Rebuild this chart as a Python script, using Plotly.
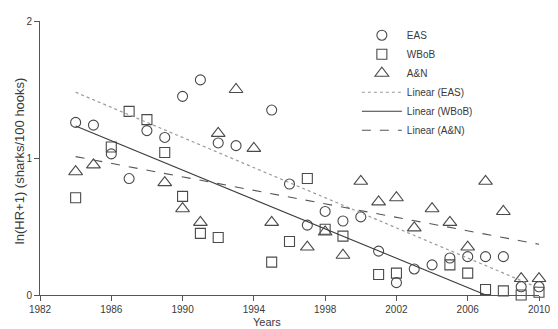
import plotly.graph_objects as go

# --- data ---
eas_years = [1984, 1985, 1986, 1987, 1988, 1989, 1990, 1991, 1992, 1993, 1995, 1996, 1997,
             1998, 1999, 2000, 2001, 2002, 2003, 2004, 2005, 2006, 2007, 2008, 2009, 2010]
eas_vals = [1.26, 1.24, 1.03, 0.85, 1.20, 1.15, 1.45, 1.57, 1.11, 1.09, 1.35, 0.81, 0.51,
            0.61, 0.54, 0.57, 0.32, 0.09, 0.19, 0.22, 0.27, 0.28, 0.28, 0.28, 0.06, 0.06]

wbob_years = [1984, 1986, 1987, 1988, 1989, 1990, 1991, 1992, 1995, 1996, 1997, 1998, 1999,
              2001, 2002, 2005, 2006, 2007, 2008, 2009, 2010]
wbob_vals = [0.71, 1.08, 1.34, 1.28, 1.04, 0.72, 0.45, 0.42, 0.24, 0.39, 0.85, 0.48, 0.43,
             0.15, 0.16, 0.22, 0.16, 0.04, 0.03, 0.00, 0.02]

an_years = [1984, 1985, 1989, 1990, 1991, 1992, 1993, 1994, 1995, 1997, 1998, 1999, 2000,
            2001, 2002, 2003, 2004, 2005, 2006, 2007, 2008, 2009, 2010]
an_vals = [0.90, 0.95, 0.82, 0.63, 0.53, 1.18, 1.50, 1.07, 0.53, 0.35, 0.46, 0.29, 0.83,
           0.68, 0.71, 0.49, 0.63, 0.53, 0.35, 0.83, 0.61, 0.12, 0.12]

# linear trend lines as drawn in the reference (values at the first and last year)
trend_years = [1984, 2010]
eas_trend = [1.48, 0.05]
wbob_trend = [1.233, -0.16]
an_trend = [1.01, 0.37]

x_ticks = [1982, 1986, 1990, 1994, 1998, 2002, 2006, 2010]
y_ticks = [0, 1, 2]

TXT = "#3a3a3a"
MK = "#4a4a4a"
FONT = "Liberation Sans, Arial, sans-serif"

fig = go.Figure()

def add_points(x, y, name, symbol, size):
    fig.add_trace(go.Scatter(
        x=x, y=y, mode="markers", name=name, cliponaxis=False,
        marker=dict(symbol=symbol, size=size, color=MK,
                    line=dict(color=MK, width=1.1)),
    ))

add_points(eas_years, eas_vals, "EAS", "circle-open", 10)
add_points(wbob_years, wbob_vals, "WBoB", "square-open", 10)
add_points(an_years, an_vals, "A&N", "triangle-up-open", 12)

def add_trend(y, name, dash, color, width):
    fig.add_trace(go.Scatter(
        x=trend_years, y=y, mode="lines", name=name, cliponaxis=True,
        line=dict(color=color, width=width, dash=dash),
    ))

add_trend(eas_trend, "Linear (EAS)", "dot", "#9a9a9a", 1.2)
add_trend(wbob_trend, "Linear (WBoB)", "solid", "#3c3c3c", 1.1)
add_trend(an_trend, "Linear (A&N)", "dash", "#555555", 1.1)

axis_common = dict(
    showgrid=False, zeroline=False, showline=True, linecolor="#555555", linewidth=1,
    ticks="outside", ticklen=5, tickcolor="#555555", tickwidth=1,
    tickfont=dict(family=FONT, size=10, color=TXT),
)

# the page body adds an 8px offset, so the figure is 8px smaller than the window
fig.update_layout(
    width=550, height=321,
    margin=dict(l=32, r=10, t=7, b=34),
    paper_bgcolor="white", plot_bgcolor="white",
    font=dict(family=FONT, color=TXT),
    showlegend=True,
    legend=dict(x=0.635, y=1.001, xanchor="left", yanchor="top",
                font=dict(family=FONT, size=10, color=TXT),
                bgcolor="rgba(0,0,0,0)", itemwidth=40),
    xaxis=dict(range=[1982, 2010], tickvals=x_ticks, ticklabeloverflow="allow", **axis_common),
    yaxis=dict(range=[0, 2], tickvals=y_ticks, **axis_common),
    annotations=[
        dict(text="Years", x=0.455, y=-0.098, xref="paper", yref="paper",
             xanchor="center", yanchor="middle", showarrow=False,
             font=dict(family=FONT, size=11, color=TXT)),
        dict(text="ln(HR+1) (sharks/100 hooks)", x=-0.0413, y=0.49, xref="paper", yref="paper",
             xanchor="center", yanchor="middle", showarrow=False, textangle=-90,
             font=dict(family=FONT, size=13, color=TXT)),
    ],
)

fig.write_html("out.html")
